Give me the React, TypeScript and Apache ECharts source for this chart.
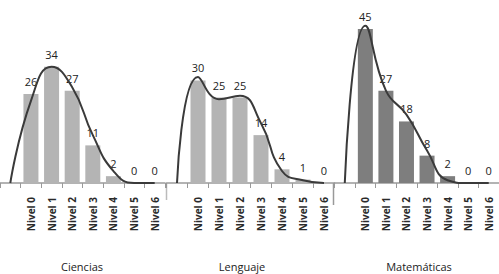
import React, { useEffect, useRef } from "react";
import * as echarts from "echarts";

const levels = ["Nivel 0", "Nivel 1", "Nivel 2", "Nivel 3", "Nivel 4", "Nivel 5", "Nivel 6"];
const subjects = ["Ciencias", "Lenguaje", "Matemáticas"];

const cienciasBars = [26, 34, 27, 11, 2, 0, 0];
const lenguajeBars = [30, 25, 25, 14, 4, 1, 0];
const matematicasBars = [45, 27, 18, 8, 2, 0, 0];

// smoothed curve values (first point is the lead-in before Nivel 0)
const cienciasCurve = [0, 24, 34, 28, 14, 3.5, 0, 0];
const lenguajeCurve = [0, 31, 24.5, 25.5, 17.5, 3.5, 0.8, 0];
const matematicasCurve = [0, 46, 27, 20, 9.5, 0.8, 0, 0];

const FONT = "Open Sans";

export default function App() {
  const ref = useRef<HTMLDivElement>(null);
  useEffect(() => {
    if (!ref.current) return;
    const chart = echarts.init(ref.current, null, { renderer: "svg" });
    const cats = ["", ...levels];
    const bars = [cienciasBars, lenguajeBars, matematicasBars];
    const curves = [cienciasCurve, lenguajeCurve, matematicasCurve];
    const lefts = [-3, 166.5, 334.5];
    const barColors = ["#b4b4b4", "#b4b4b4", "#7e7e7e"];
    const titleX = [82, 242, 419];

    const grids = lefts.map((l) => ({ left: l, top: 12, width: 168, height: 171 }));
    const xAxes = lefts.map((_, i) => ({
      type: "category",
      gridIndex: i,
      data: cats,
      boundaryGap: true,
      axisLine: { show: true, lineStyle: { color: "#9a9a9a", width: 1.5 } },
      axisTick: { show: true, length: 5, lineStyle: { color: "#999" }, alignWithLabel: false },
      axisLabel: {
        rotate: 90,
        interval: 0,
        margin: 14,
        fontSize: 10,
        fontWeight: "bold",
        color: "#2a2a2a",
        fontFamily: FONT,
      },
    }));
    const yAxes = lefts.map((_, i) => ({
      type: "value",
      gridIndex: i,
      min: 0,
      max: 50,
      show: false,
      splitLine: { show: false },
    }));
    const series: any[] = [];
    bars.forEach((b, i) => {
      series.push({
        type: "bar",
        xAxisIndex: i,
        yAxisIndex: i,
        data: ["-", ...b],
        barWidth: 15,
        itemStyle: { color: barColors[i] },
        label: {
          show: true,
          position: "top",
          distance: 7,
          formatter: "{v|{c}}",
          rich: {
            v: { fontSize: 11, color: "#222222", fontFamily: FONT },
          },
        },
        z: 2,
      });
      series.push({
        type: "line",
        xAxisIndex: i,
        yAxisIndex: i,
        data: curves[i],
        smooth: 0.5,
        symbol: "none",
        lineStyle: { color: "#3a3a3a", width: 2 },
        z: 3,
      });
    });

    chart.setOption({
      animation: false,
      backgroundColor: "#ffffff",
      textStyle: { color: "#222222", fontFamily: FONT },
      grid: grids,
      xAxis: xAxes,
      yAxis: yAxes,
      series,
      graphic: [
        ...subjects.map((s, i) => ({
          type: "text",
          x: titleX[i],
          y: 266,
          style: {
            text: s,
            fontSize: 11,
            fontFamily: FONT,
            fill: "#222",
            textAlign: "center",
            textVerticalAlign: "middle",
          },
        })),
        { type: "line", shape: { x1: 166.5, y1: 183, x2: 166.5, y2: 200 }, style: { stroke: "#bbb", lineWidth: 1.5 } },
        { type: "line", shape: { x1: 333.5, y1: 183, x2: 333.5, y2: 205 }, style: { stroke: "#999", lineWidth: 1.5 } },
      ],
    });
    return () => chart.dispose();
  }, []);
  return (
    <div style={{ position: "fixed", left: 0, top: 0 }}>
      <div ref={ref} style={{ width: 499, height: 274 }} />
    </div>
  );
}
